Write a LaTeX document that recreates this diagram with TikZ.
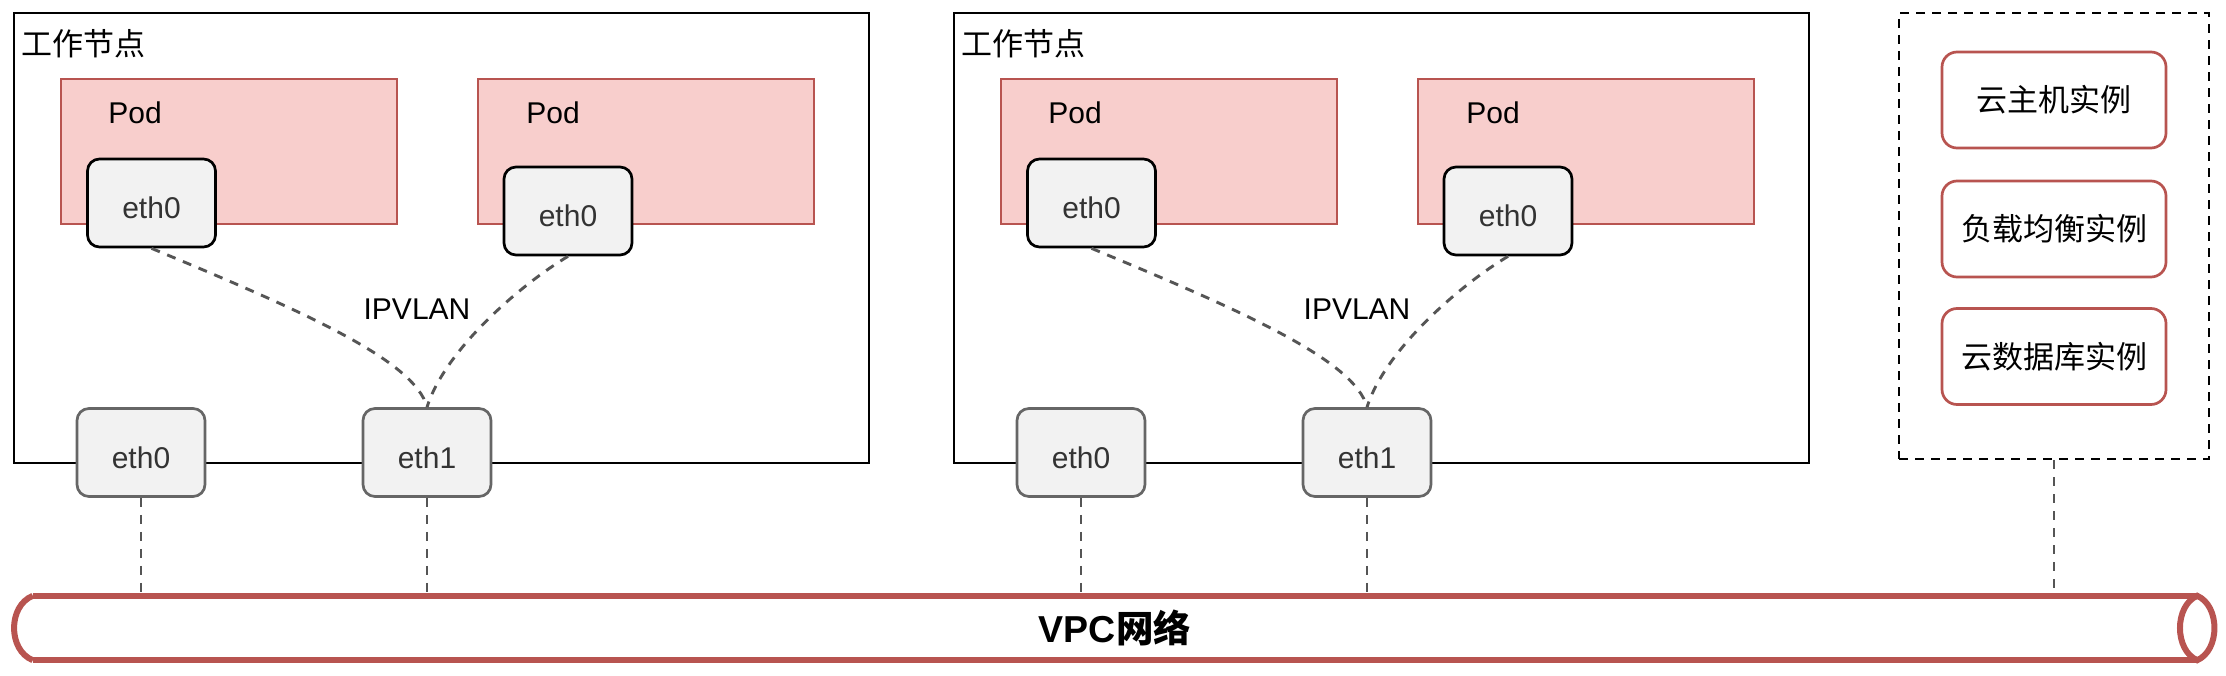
\documentclass[tikz,border=0pt]{standalone}
\usepackage{fontspec}
\setmainfont{Liberation Sans}
\newfontfamily\cjk{Noto Sans CJK SC}
\usetikzlibrary{calc}
\definecolor{podfill}{HTML}{F8CECC}
\definecolor{podline}{HTML}{B85450}
\definecolor{ethfill}{HTML}{F2F2F2}
\definecolor{ethline}{HTML}{666666}
\definecolor{ethtext}{HTML}{333333}
\definecolor{dashgray}{HTML}{555555}
\begin{document}
\begin{tikzpicture}[x=1pt,y=-1pt,
  worker/.style={draw=black, line width=2.7pt, fill=white, minimum width=855pt, minimum height=450pt, inner sep=0pt},
  podbox/.style={draw=podline, line width=2.5pt, fill=podfill, minimum width=336pt, minimum height=145pt, inner sep=0pt},
  ethin/.style={draw=black, line width=2.7pt, fill=ethfill, rounded corners=12pt, minimum width=128pt, minimum height=88pt, inner sep=0pt, text=ethtext, font=\fontsize{30}{36}\selectfont, text height=32pt, text depth=0pt},
  ethout/.style={ethin, draw=ethline},
  lbl/.style={font=\fontsize{30}{36}\selectfont, inner sep=0pt},
  cjklbl/.style={font=\cjk\fontsize{31}{36}\selectfont, inner sep=0pt},
  inst/.style={draw=podline, line width=2.7pt, fill=white, rounded corners=15pt, minimum width=224pt, minimum height=96pt, inner sep=0pt, font=\cjk\fontsize{31}{36}\selectfont},
  link/.style={draw=dashgray, line width=2.9pt, dash pattern=on 9pt off 8pt},
  pipeline/.style={draw=podline, line width=6pt},
  grpbox/.style={draw=black, line width=2.7pt, dash pattern=on 9pt off 7pt, minimum width=310pt, minimum height=446pt, inner sep=0pt}
]
\useasboundingbox (0,0) rectangle (2226,676);

% ---------- worker node 1 ----------
\node[worker] (w1) at (441.5,238) {};
\node[cjklbl, anchor=west] (w1t) at (21,44) {工作节点};
\node[podbox] (p1) at (229,151.5) {};
\node[lbl] (p1t) at (135,113) {Pod};
\node[podbox] (p2) at (646,151.5) {};
\node[lbl] (p2t) at (553,113) {Pod};
\node[ethin] (pe1) at (151.5,203) {eth0};
\node[ethin] (pe2) at (568,211) {eth0};
\node[ethout] (e0) at (141,452.5) {eth0};
\node[ethout] (e1) at (427,452.5) {eth1};
\node[lbl] (ipv1) at (417,309) {IPVLAN};
\draw[link] (pe1.south) .. controls (300,310) and (415,360) .. (e1.north);
\draw[link] (pe2.south) .. controls (520,285) and (445,350) .. (e1.north);

% ---------- worker node 2 ----------
\node[worker] (w2) at (1381.5,238) {};
\node[cjklbl, anchor=west] (w2t) at (961,44) {工作节点};
\node[podbox] (p3) at (1169,151.5) {};
\node[lbl] (p3t) at (1075,113) {Pod};
\node[podbox] (p4) at (1586,151.5) {};
\node[lbl] (p4t) at (1493,113) {Pod};
\node[ethin] (pe3) at (1091.5,203) {eth0};
\node[ethin] (pe4) at (1508,211) {eth0};
\node[ethout] (e2) at (1081,452.5) {eth0};
\node[ethout] (e3) at (1367,452.5) {eth1};
\node[lbl] (ipv2) at (1357,309) {IPVLAN};
\draw[link] (pe3.south) .. controls (1240,310) and (1355,360) .. (e3.north);
\draw[link] (pe4.south) .. controls (1460,285) and (1385,350) .. (e3.north);

% ---------- cloud instances ----------
\node[grpbox] (grp) at (2054,236) {};
\node[inst] (i1) at (2054,100) {云主机实例};
\node[inst] (i2) at (2054,229) {负载均衡实例};
\node[inst] (i3) at (2054,356.5) {云数据库实例};

% ---------- VPC pipe ----------
\node[inner sep=0pt, minimum width=2164pt, minimum height=64pt, font=\bfseries\fontsize{37.5}{44}\selectfont] (pipe) at (1115,628) {VPC{\cjk 网络}};

\draw[link] (e0.south) -- (e0.south |- pipe.north);
\draw[link] (e1.south) -- (e1.south |- pipe.north);
\draw[link] (e2.south) -- (e2.south |- pipe.north);
\draw[link] (e3.south) -- (e3.south |- pipe.north);
\draw[link] (grp.south) -- (grp.south |- pipe.north);

\draw[pipeline] (pipe.north west) -- (pipe.north east);
\draw[pipeline] (pipe.south west) -- (pipe.south east);
\draw[pipeline] (pipe.north west) .. controls ($(pipe.north west)+(-25,10)$) and ($(pipe.south west)+(-25,-10)$) .. (pipe.south west);
\draw[pipeline] (pipe.north east) .. controls ($(pipe.north east)+(-23,10)$) and ($(pipe.south east)+(-23,-10)$) .. (pipe.south east) .. controls ($(pipe.south east)+(23,-10)$) and ($(pipe.north east)+(23,10)$) .. cycle;
\end{tikzpicture}
\end{document}
